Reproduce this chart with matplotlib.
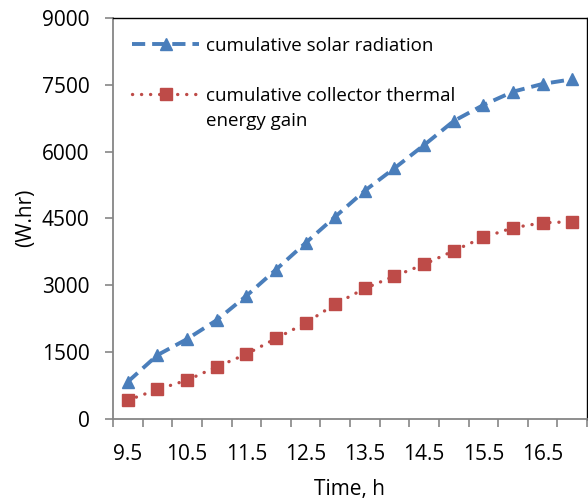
import numpy as np
import matplotlib
matplotlib.use('Agg')
import matplotlib.pyplot as plt

plt.rcParams['font.family'] = ['Open Sans', 'DejaVu Sans']
plt.rcParams['lines.scale_dashes'] = False

# data
times = ['9.5', '10', '10.5', '11', '11.5', '12', '12.5', '13',
         '13.5', '14', '14.5', '15', '15.5', '16', '16.5', '17']
solar = [830, 1430, 1790, 2215, 2760, 3350, 3950, 4540,
         5125, 5630, 6150, 6690, 7050, 7350, 7525, 7630]
thermal = [416, 657, 866, 1165, 1450, 1803, 2150, 2575,
           2928, 3205, 3468, 3774, 4075, 4291, 4404, 4426]
yticks = [0, 1500, 3000, 4500, 6000, 7500, 9000]

blue = '#4A7EBB'
red = '#BE4B48'

fig = plt.figure(figsize=(5.88, 5.01), dpi=100)
ax = fig.add_axes([113/588, 1 - 418.7/501, 474/588, 400.4/501])

x = np.arange(len(times))
ax.plot(x, solar, color=blue, lw=2.8, dashes=(9.5, 5), marker='^', ms=9,
        label='cumulative solar radiation')
ax.plot(x, thermal, color=red, lw=2.4, dashes=(0.1, 6.4), dash_capstyle='round',
        marker='s', ms=9, label='cumulative collector thermal')

ax.set_xlim(-0.5, len(times) - 0.5)
ax.set_ylim(0, 9000)
ax.set_yticks(yticks)
ax.set_yticklabels([str(v) for v in yticks], fontsize=15)

# category axis: ticks on the boundaries, every other label
ax.set_xticks(np.arange(len(times) + 1) - 0.5)
ax.set_xticklabels([])
ax.set_xticks(x[::2], minor=True)
ax.set_xticklabels(times[::2][:8], minor=True, fontsize=15)
ax.tick_params(axis='x', which='minor', length=0, pad=18.5)
ax.tick_params(axis='x', which='major', length=6, width=1.2, color='#868686')
ax.tick_params(axis='y', length=6, width=1.2, color='#868686', pad=11)

for s in ['left', 'bottom']:
    ax.spines[s].set_color('#868686')
    ax.spines[s].set_linewidth(1.3)
for s in ['top', 'right']:
    ax.spines[s].set_color('black')
    ax.spines[s].set_linewidth(1.0)

ax.set_xlabel('Time, h', fontsize=15, labelpad=9.5)
fig.text(26/588, 1 - 218/501, '(W.hr)', rotation=90, fontsize=15,
         ha='center', va='center')

leg = ax.legend(loc='upper left', bbox_to_anchor=(0.0, 1.0), frameon=False,
                fontsize=13.5, handlelength=3.6, handletextpad=0.35,
                labelspacing=1.7, borderaxespad=0.6)

# second line of the collector label, placed under the first one
fig.canvas.draw()
t = leg.get_texts()[1]
bb = t.get_window_extent()
inv = fig.transFigure.inverted()
x0, y0 = inv.transform((bb.x0, bb.y0))
fig.text(x0, y0 - 25/501, 'energy gain', fontsize=13.5, ha='left', va='bottom')

fig.savefig('out.png', dpi=100)
